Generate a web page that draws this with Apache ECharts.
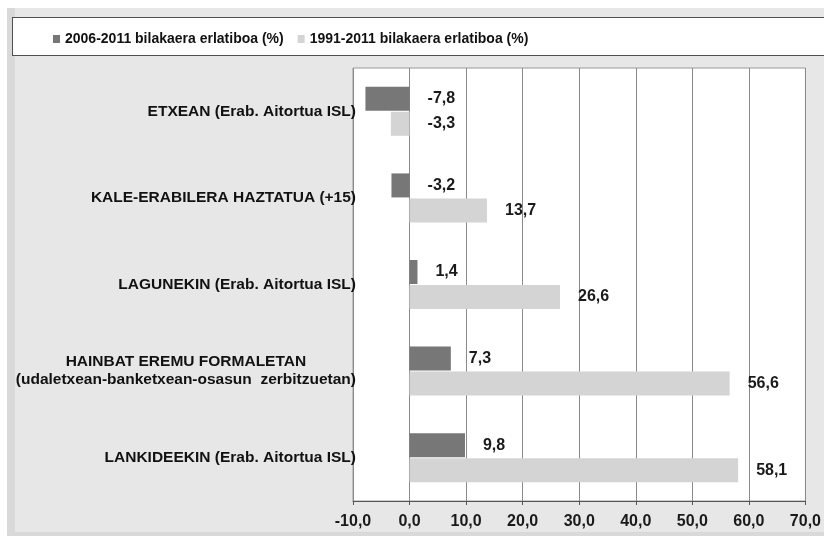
<!DOCTYPE html>
<html>
<head>
<meta charset="utf-8">
<script src="https://cdn.jsdelivr.net/npm/echarts@6/dist/echarts.min.js"></script>
<style>
  html, body { margin:0; padding:0; width:824px; height:536px; overflow:hidden; background:#ffffff; }
  #frame { position:absolute; left:7px; top:8px; width:817px; height:528px; background:#d9d9d9; }
  #panel { position:absolute; left:15px; top:8px; width:809px; height:524px; background:#e7e7e7; }
  #legendbox { position:absolute; left:12px; top:17px; width:840px; height:39px; box-sizing:border-box; border:1px solid #505050; background:#ffffff; }
  #chart { position:absolute; left:0; top:0; width:824px; height:536px; }
</style>
</head>
<body>
<div id="frame"></div>
<div id="panel"></div>
<div id="legendbox"></div>
<div id="chart"></div>
<script>
// ---- data ----
const categories = [
  'ETXEAN (Erab. Aitortua ISL)',
  'KALE-ERABILERA HAZTATUA (+15)',
  'LAGUNEKIN (Erab. Aitortua ISL)',
  'HAINBAT EREMU FORMALETAN\n(udaletxean-banketxean-osasun  zerbitzuetan)',
  'LANKIDEEKIN (Erab. Aitortua ISL)'
];
const seriesNames = ['2006-2011 bilakaera erlatiboa (%)', '1991-2011 bilakaera erlatiboa (%)'];
const change2006_2011 = [-7.8, -3.2, 1.4, 7.3, 9.8];
const change1991_2011 = [-3.3, 13.7, 26.6, 56.6, 58.1];
const xTicks = [-10, 0, 10, 20, 30, 40, 50, 60, 70];

const fmt = v => Number(v).toFixed(1).replace('.', ',');
const boldFont = '"Liberation Sans", Arial, sans-serif';

const chart = echarts.init(document.getElementById('chart'), null, { renderer: 'canvas' });

const labelCfg = {
  show: true,
  position: 'right',
  distance: 18,
  color: '#1a1a1a',
  fontFamily: boldFont,
  fontWeight: 'bold',
  fontSize: 16,
  formatter: p => fmt(p.value)
};

chart.setOption({
  backgroundColor: 'transparent',
  animation: false,
  legend: {
    left: 48,
    top: 27,
    itemWidth: 7,
    itemHeight: 8,
    itemGap: 14,
    icon: 'rect',
    textStyle: { fontFamily: boldFont, fontWeight: 'bold', fontSize: 14, color: '#111' },
    data: seriesNames
  },
  grid: {
    left: 353, right: 14, top: 68, bottom: 35,
    show: true,
    backgroundColor: '#ffffff',
    borderColor: '#9a9a9a',
    borderWidth: 1,
    containLabel: false
  },
  xAxis: {
    type: 'value',
    min: xTicks[0],
    max: xTicks[xTicks.length - 1],
    interval: 10,
    axisLine: { show: true, onZero: false, lineStyle: { color: '#555', width: 1 } },
    axisTick: { show: true, length: 4, lineStyle: { color: '#555' } },
    splitLine: { show: true, lineStyle: { color: '#8a8a8a', width: 1 } },
    axisLabel: {
      margin: 13,
      color: '#1a1a1a',
      fontFamily: boldFont,
      fontWeight: 'bold',
      fontSize: 16,
      formatter: v => fmt(v)
    }
  },
  yAxis: {
    type: 'category',
    inverse: true,
    data: categories,
    axisLine: { show: false, onZero: false },
    axisTick: { show: false },
    splitLine: { show: false },
    axisLabel: {
      margin: -3,
      align: 'right',
      formatter: v => v.split('\n').map(s => '{c|' + s + '}').join('\n'),
      rich: {
        c: {
          align: 'center',
          color: '#111',
          fontFamily: boldFont,
          fontWeight: 'bold',
          fontSize: 15.5,
          lineHeight: 18
        }
      }
    }
  },
  series: [
    {
      name: seriesNames[0],
      type: 'bar',
      data: change2006_2011,
      barWidth: 24,
      barGap: '4%',
      itemStyle: { color: '#777777' },
      label: labelCfg
    },
    {
      name: seriesNames[1],
      type: 'bar',
      data: change1991_2011,
      barWidth: 24,
      barGap: '4%',
      itemStyle: { color: '#d4d4d4' },
      label: labelCfg
    }
  ]
});
</script>
</body>
</html>
